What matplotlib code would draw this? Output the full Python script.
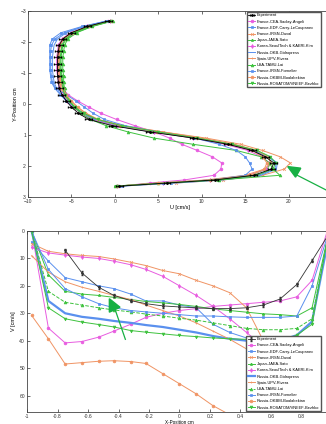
import numpy as np
import matplotlib
matplotlib.use("Agg")
import matplotlib.pyplot as plt

plt.rcParams['font.family'] = ['Liberation Sans', 'DejaVu Sans']

# ---- data: top panel, U [cm/s] along Y-Position ----
y_top = [-2.68, -2.5, -2.3, -2.1, -1.9, -1.7, -1.5, -1.3, -1.1, -0.9, -0.7, -0.5, -0.3, -0.1,
         0.1, 0.3, 0.5, 0.7, 0.9, 1.1, 1.3, 1.5, 1.7, 1.9, 2.1, 2.3, 2.45, 2.55, 2.65]

u_exp = [-0.7, -3.2, -5.0, -6.0, -6.4, -6.5, -6.6, -6.6, -6.6, -6.6, -6.5, -6.4, -6.1, -5.6,
         -5.0, -4.2, -3.0, -0.3, 4.0, 9.0, 13.0, 15.8, 17.3, 18.3, 18.0, 16.0, 11.5, 6.0, 0.5]
u_top = {
    'France-CEA-Saclay-Angeli': [-0.8, -3.0, -4.8, -5.8, -6.3, -6.4, -6.5, -6.5, -6.5, -6.4, -6.3, -6.0, -5.4, -4.3,
                                 -3.0, -1.6, 0.2, 2.3, 4.5, 6.3, 7.7, 9.5, 11.2, 12.3, 12.2, 11.4, 8.0, 4.0, 0.5],
    'France-EDF-Carry-LeCoupanec': [-0.9, -3.8, -6.2, -7.2, -7.5, -7.5, -7.5, -7.5, -7.5, -7.4, -7.3, -6.9, -6.3, -5.6,
                                    -4.8, -3.8, -2.4, 0.3, 4.8, 9.6, 13.2, 15.8, 17.6, 18.6, 18.4, 16.5, 12.0, 6.5, 0.8],
    'France-IRSN-Duval': [-0.5, -3.0, -4.9, -5.9, -6.3, -6.4, -6.5, -6.5, -6.5, -6.4, -6.3, -6.2, -5.9, -5.4,
                          -4.8, -3.8, -2.3, 0.8, 5.5, 10.5, 14.5, 17.0, 19.0, 20.2, 19.5, 17.0, 12.5, 7.0, 0.5],
    'Japan-JAEA-Sato': [-0.3, -2.7, -4.5, -5.6, -6.0, -6.1, -6.2, -6.2, -6.2, -6.1, -6.0, -5.9, -5.7, -5.2,
                        -4.6, -3.8, -2.4, 0.0, 4.2, 9.2, 13.4, 16.2, 17.6, 18.0, 17.5, 15.5, 11.0, 5.5, 0.0],
    'Korea-SeoulTech & KAERI-Kim': [-0.6, -3.2, -5.1, -6.1, -6.5, -6.6, -6.7, -6.7, -6.7, -6.6, -6.5, -6.4, -6.0, -5.5,
                                    -4.8, -3.9, -2.6, 0.2, 4.5, 9.0, 12.7, 15.3, 16.9, 17.8, 17.4, 15.4, 11.0, 5.5, 0.3],
    'Russia-OKB-Gidropress': [-0.8, -3.5, -5.6, -6.6, -7.0, -7.1, -7.2, -7.2, -7.2, -7.1, -7.0, -6.7, -6.2, -5.5,
                              -4.7, -3.7, -2.3, 0.5, 4.8, 9.5, 13.3, 16.0, 17.7, 18.7, 18.6, 16.8, 12.5, 7.0, 0.6],
    'Spain-UPV-Rivera': [-0.6, -3.1, -5.0, -6.0, -6.4, -6.5, -6.6, -6.6, -6.6, -6.5, -6.4, -6.2, -5.8, -5.1,
                         -4.3, -3.3, -1.9, 1.0, 5.5, 10.0, 13.8, 16.3, 17.6, 18.0, 17.2, 15.0, 10.5, 5.0, 0.2],
    'USA-TAMU-Lai': [-0.2, -2.6, -4.4, -5.4, -5.8, -5.9, -6.0, -6.0, -6.0, -5.9, -5.9, -5.8, -5.6, -5.2,
                     -4.7, -3.9, -2.8, -1.0, 1.5, 4.5, 9.0, 14.0, 16.8, 17.8, 18.2, 19.0, 12.0, 5.0, 0.0],
    'France-IRSN-Fornelier': [-0.9, -3.6, -5.8, -6.9, -7.3, -7.4, -7.4, -7.4, -7.4, -7.3, -7.2, -6.8, -5.6, -4.5,
                              -3.5, -2.5, -1.2, 1.2, 5.0, 9.2, 12.0, 14.0, 15.0, 15.5, 15.8, 15.0, 11.0, 5.5, 0.5],
    'Russia-OKBM-Boalabekian': [-0.5, -3.0, -4.9, -5.9, -6.3, -6.4, -6.4, -6.4, -6.4, -6.3, -6.2, -6.0, -5.6, -5.0,
                                -4.3, -3.4, -2.0, 0.6, 4.8, 9.4, 13.2, 15.8, 17.0, 17.5, 17.2, 15.6, 11.0, 5.0, 0.3],
    'Russia-ROSATOM/VNIIEF-Bezhko': [-0.4, -2.9, -4.7, -5.7, -6.1, -6.2, -6.3, -6.3, -6.3, -6.2, -6.1, -6.0, -5.8, -5.3,
                                     -4.6, -3.6, -2.0, 0.8, 5.0, 9.5, 13.5, 16.4, 17.9, 18.5, 18.2, 16.3, 11.8, 6.0, 0.2],
}

# ---- data: bottom panel, V [cm/s] along X-Position ----
x_bot = [-0.97, -0.86, -0.75, -0.64, -0.53, -0.43, -0.32, -0.22, -0.11, 0.0,
         0.11, 0.22, 0.33, 0.44, 0.55, 0.66, 0.77, 0.87, 0.97]
nan = np.nan
v_exp = [nan, nan, 7, 15.3, 20.5, 23.5, 25.4, 26.5, 27.3, 27.7, 28, 28.3, 28.3, 28, 27, 24.8, 19.5, 10.8, 2]
v_bot = {
    'France-CEA-Saclay-Angeli': [0, 35.4, 40.8, 40.3, 38.7, 36.5, 34, 31.5, 30, 29, 28.3, 27.5, 27, 26.5, 26, 25.5, 24, 18, 0],
    'France-EDF-Carry-LeCoupanec': [4, 11, 17, 18.5, 20, 21, 23, 25.5, 25.5, 27, 28, 34, 37, 39, 40.5, nan, nan, nan, nan],
    'France-IRSN-Duval': [4.6, 7.4, 8.3, 8.9, 9.3, 10.2, 11.4, 12.6, 14.4, 15.6, 18, 20, 22.5, 28, 40, nan, nan, nan, nan],
    'Japan-JAEA-Sato': [0, 16, 22, 23, 23.5, 24.2, 25, 25.7, 26.2, 26.8, 27.5, 28.4, 29, 29.6, 30.2, 30.5, 31, 28, 3],
    'Korea-SeoulTech & KAERI-Kim': [6, 8, 8.8, 9.5, 10, 11, 12.3, 14, 16.5, 20, 23.5, 27.5, 32, 37, 42, nan, nan, nan, nan],
    'Russia-OKB-Gidropress': [0, 25.5, 30, 31.3, 32, 32.8, 33.5, 34.3, 35, 36, 37, 38.3, 39.3, 40, 40.5, 40, 38, 33, 5],
    'Spain-UPV-Rivera': [9, 15, 18.5, 20.5, 22, 23.5, 25, 27, 29, 31, 33.5, 36.5, 39.5, 43, 47, nan, nan, nan, nan],
    'USA-TAMU-Lai': [0, 22, 26, 27, 28, 28.8, 29.5, 30.3, 31, 31.8, 32.5, 33.5, 34.5, 35.5, 36, 36, 35.5, 32, 3],
    'France-IRSN-Fornelier': [0, 14, 21, 24, 26.5, 28, 29, 29.5, 30, 30.5, 31, 31, 31.3, 31.5, 31.5, 31.5, 31, 20, 2],
    'Russia-OKBM-Boalabekian': [30.8, 39.3, 48.5, 48, 47.5, 47.3, 47.6, 48.3, 52, 55.7, 59.4, 63.7, 67, nan, nan, nan, nan, nan, nan],
    'Russia-ROSATOM/VNIIEF-Bezhko': [0, 28, 32, 33.2, 34.1, 35, 36.3, 36.9, 37.5, 38.1, 38.5, 39, 39.3, 39.5, 40, 40, 38, 34, 3],
}

magenta, blue, orange, green = '#e85ce0', '#5a90ee', '#f09464', '#3ec23e'
colors = [magenta, blue, orange, green, magenta, blue, orange, green, blue, orange, green]
markers = ['o', 's', 'x', '*', 'd', '', '+', '^', 's', 'o', 'v']
arrow_green = '#17b043'


def style_axes(ax):
    ax.tick_params(direction='in', length=2, width=0.5, labelsize=3.6, pad=1.5,
                   top=True, right=True, colors='#333333')
    for s in ax.spines.values():
        s.set_linewidth(0.6)
        s.set_color('#444444')


def add_legend(ax, **kw):
    h, l = ax.get_legend_handles_labels()
    # experiment first, as in the original
    h = h[-1:] + h[:-1]
    l = l[-1:] + l[:-1]
    ax.legend(h, l, fontsize=2.9, handlelength=1.8, labelspacing=0.55, borderpad=0.4,
              handletextpad=0.4, borderaxespad=0.2, frameon=True, fancybox=False,
              edgecolor='#555555', framealpha=1, **kw)


fig = plt.figure(figsize=(3.26, 4.24), dpi=100)

# ---------------- top panel ----------------
ax1 = fig.add_axes([0.086, 0.5354, 0.9325, 0.4387])
for (name, vals), c, m in zip(u_top.items(), colors, markers):
    ax1.plot(vals, y_top, color=c, marker=m, ms=2, lw=0.7, mew=0.5, label=name)
ax1.errorbar(u_exp, y_top, xerr=0.4, color='black', marker='.', ms=2, lw=0.6,
             elinewidth=0.5, capsize=0.8, label='Experiment', zorder=5)
ax1.set_xlim(-10, 25)
ax1.set_ylim(3, -3)
ax1.set_xticks([-10, -5, 0, 5, 10, 15, 20])
ax1.set_yticks([-3, -2, -1, 0, 1, 2, 3])
ax1.set_xlabel('U [cm/s]', fontsize=4, labelpad=1)
ax1.set_ylabel('Y-Position cm', fontsize=4, labelpad=2)
style_axes(ax1)
add_legend(ax1, loc='upper left', bbox_to_anchor=(0.716, 1.0))
# green pointer
ax1.fill([19.9, 21.4, 20.8], [2.02, 2.07, 2.36], color=arrow_green, zorder=6)
ax1.plot([21.0, 24.5], [2.3, 2.8], color=arrow_green, lw=0.9, zorder=6, clip_on=False)

# ---------------- bottom panel ----------------
ax2 = fig.add_axes([0.083, 0.0283, 0.935, 0.4269])
for (name, vals), c, m in zip(v_bot.items(), colors, markers):
    lw = 1.6 if name == 'Russia-OKB-Gidropress' else 0.7
    ls = '--' if name == 'USA-TAMU-Lai' else '-'
    ax2.plot(x_bot, vals, color=c, marker=m, ms=2, lw=lw, ls=ls, mew=0.5, label=name)
ax2.errorbar(x_bot, v_exp, yerr=0.6, color='#333333', marker='.', ms=2, lw=0.6,
             elinewidth=0.5, capsize=0.8, label='Experiment', zorder=5)
ax2.set_xlim(-1, 1)
ax2.set_ylim(66, 0)
ax2.set_xticks([-1, -0.8, -0.6, -0.4, -0.2, 0, 0.2, 0.4, 0.6, 0.8])
ax2.set_xticklabels(['-1', '-0.8', '-0.6', '-0.4', '-0.2', '0', '0.2', '0.4', '0.6', '0.8'])
ax2.set_yticks([0, 10, 20, 30, 40, 50, 60])
ax2.set_xlabel('X-Position cm', fontsize=3.3)
ax2.xaxis.set_label_coords(0.5, -0.042)
ax2.set_ylabel('V [cm/s]', fontsize=4, labelpad=2)
style_axes(ax2)
add_legend(ax2, loc='lower left', bbox_to_anchor=(0.716, 0.0))
# green pointer
ax2.fill([-0.46, -0.46, -0.39], [24.7, 29.6, 27.8], color=arrow_green, zorder=6)
ax2.plot([-0.42, -0.355], [29.0, 39.5], color=arrow_green, lw=0.9, zorder=6)

fig.savefig('out.png', dpi=100)
